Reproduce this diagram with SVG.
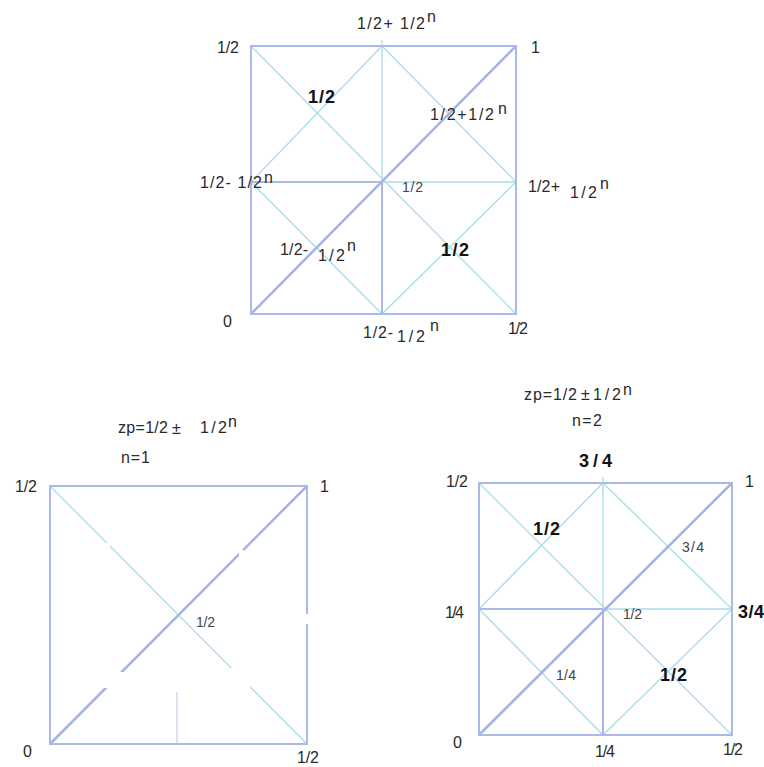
<svg xmlns="http://www.w3.org/2000/svg" width="764" height="767" viewBox="0 0 764 767">
<style>
.sq{fill:none;stroke:#aab9e8;stroke-width:2}
.lv{stroke:#a9b8e6;stroke-width:2;fill:none}
.dg{stroke:#a3b3e4;stroke-width:2.5;fill:none}
.cy{stroke:#a9dbea;stroke-width:1.3;fill:none}
.fl{stroke:#c6cdea;stroke-width:1.2;fill:none}
text{font-family:"Liberation Sans","DejaVu Sans",sans-serif;fill:#2a2a2a;font-size:16px}
.s{font-size:14px;fill:#444}
.b{font-weight:bold;fill:#111;font-size:18px}
.e{fill:#fff;stroke:none}
</style>
<rect width="764" height="767" fill="#fff"/>
<g id="connectors">
  <g id="top-lines">
    <line class="cy" x1="251" y1="46" x2="516" y2="314"/>
    <polygon class="cy" points="382,46 516,182 382,314 251,182"/>
    <line class="cy" x1="382" y1="40" x2="382" y2="182"/>
    <line class="lv" x1="382" y1="182" x2="382" y2="314"/>
    <line class="lv" x1="251" y1="182" x2="382" y2="182"/>
    <line class="cy" x1="382" y1="182" x2="516" y2="182"/>
    <line class="dg" x1="251" y1="314" x2="516" y2="46"/>
    <rect class="sq" x="251" y="46" width="265" height="268"/>
  </g>
  <g id="bl-lines">
    <line class="cy" x1="50" y1="486" x2="307" y2="744"/>
    <line class="dg" x1="50" y1="744" x2="307" y2="486"/>
    <line class="fl" x1="177" y1="692" x2="177" y2="744"/>
    <rect class="sq" x="50" y="486" width="257" height="258"/>
    <rect class="e" x="104" y="543" width="6" height="6"/>
    <rect class="e" x="239" y="550" width="5" height="6"/>
    <rect class="e" x="100" y="672" width="30" height="16"/>
    <rect class="e" x="228" y="668" width="22" height="24"/>
    <rect class="e" x="303" y="614" width="8" height="10"/>
  </g>
  <g id="br-lines">
    <line class="cy" x1="479" y1="483" x2="732" y2="735"/>
    <polygon class="cy" points="603,483 732,609 603,735 479,609"/>
    <line class="cy" x1="603" y1="477" x2="603" y2="609"/>
    <line class="lv" x1="603" y1="609" x2="603" y2="735"/>
    <line class="lv" x1="479" y1="609" x2="603" y2="609"/>
    <line class="cy" x1="603" y1="609" x2="732" y2="609"/>
    <line class="dg" x1="479" y1="735" x2="732" y2="483"/>
    <rect class="sq" x="479" y="483" width="253" height="252"/>
  </g>
</g>
<g id="top-labels">
  <g id="t-top"><text x="357" y="29" font-size="18" textLength="68">1/2+ 1/2</text><text x="427" y="22" font-size="17">n</text></g>
  <g id="t-tl"><text x="217" y="53" font-size="15" textLength="22">1/2</text></g>
  <g id="t-tr"><text x="531" y="53" font-size="15">1</text></g>
  <g id="t-q1"><text class="b" x="308" y="103" textLength="27">1/2</text></g>
  <g id="t-q2"><text x="430" y="120" textLength="64">1/2+1/2</text><text x="498" y="114" font-size="17">n</text></g>
  <g id="t-left"><text x="200" y="188" textLength="62">1/2- 1/2</text><text x="264" y="183" font-size="17">n</text></g>
  <g id="t-center"><text class="s" x="402" y="192" textLength="21">1/2</text></g>
  <g id="t-right"><text x="528" y="192" textLength="32">1/2+</text><text x="570" y="198" textLength="27">1/2</text><text x="600" y="189" font-size="17">n</text></g>
  <g id="t-q3"><text x="280" y="255" textLength="28">1/2-</text><text x="318" y="261" textLength="27">1/2</text><text x="347" y="251" font-size="17">n</text></g>
  <g id="t-q4"><text class="b" x="441" y="256" textLength="28">1/2</text></g>
  <g id="t-bl"><text x="223" y="327">0</text></g>
  <g id="t-bottom"><text x="363" y="338" textLength="30">1/2-</text><text x="397" y="342" textLength="28">1/2</text><text x="430" y="331" font-size="17">n</text></g>
  <g id="t-br"><text x="508" y="334" font-size="15" textLength="20">1/2</text></g>
</g>
<g id="bl-labels">
  <g id="bl-formula"><text x="118" y="433" textLength="50">zp=1/2</text><text x="172" y="434" font-size="13">±</text><text x="200" y="433" textLength="27">1/2</text><text x="228" y="427" font-size="16">n</text></g>
  <g id="bl-n"><text x="121" y="463" textLength="29">n=1</text></g>
  <g id="bl-tl"><text x="15" y="492" font-size="15" textLength="22">1/2</text></g>
  <g id="bl-tr"><text x="320" y="492" font-size="15">1</text></g>
  <g id="bl-center"><text class="s" x="196" y="627" font-size="13" textLength="19">1/2</text></g>
  <g id="bl-0"><text x="23" y="757">0</text></g>
  <g id="bl-br"><text x="297" y="763" font-size="15" textLength="22">1/2</text></g>
</g>
<g id="br-labels">
  <g id="br-formula"><text x="524" y="400" textLength="53">zp=1/2</text><text x="581" y="400" font-size="13">±</text><text x="593" y="400" textLength="28">1/2</text><text x="623" y="395" font-size="16">n</text></g>
  <g id="br-n"><text x="572" y="426" textLength="30">n=2</text></g>
  <g id="br-top"><text class="b" x="579" y="467" textLength="33">3/4</text></g>
  <g id="br-tl"><text x="446" y="487" font-size="15" textLength="22">1/2</text></g>
  <g id="br-tr"><text x="745" y="487" font-size="15">1</text></g>
  <g id="br-q1"><text class="b" x="533" y="535" textLength="27">1/2</text></g>
  <g id="br-q2"><text class="s" x="682" y="552" textLength="22">3/4</text></g>
  <g id="br-left"><text x="445" y="618" font-size="14" textLength="19">1/4</text></g>
  <g id="br-center"><text class="s" x="623" y="619" font-size="13" textLength="19">1/2</text></g>
  <g id="br-right"><text class="b" x="738" y="618" textLength="26">3/4</text></g>
  <g id="br-q3"><text class="s" x="556" y="680" textLength="20">1/4</text></g>
  <g id="br-q4"><text class="b" x="660" y="681" textLength="27">1/2</text></g>
  <g id="br-0"><text x="453" y="748">0</text></g>
  <g id="br-bottom"><text x="595" y="757" font-size="15" textLength="20">1/4</text></g>
  <g id="br-br"><text x="723" y="755" font-size="15" textLength="20">1/2</text></g>
</g>
</svg>
